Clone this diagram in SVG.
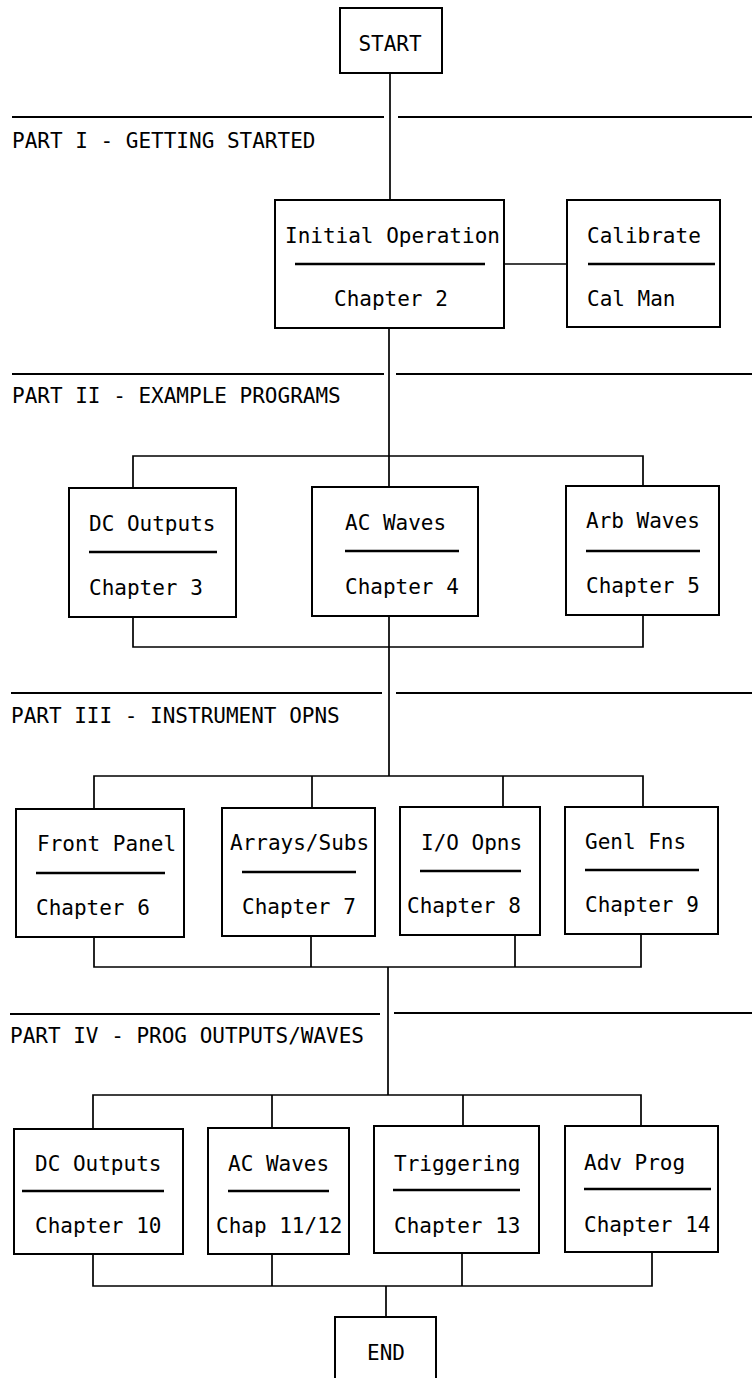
<svg xmlns="http://www.w3.org/2000/svg" width="752" height="1378" viewBox="0 0 752 1378">
<style>
.box{fill:#fff;stroke:#000;stroke-width:2}
.div{stroke:#000;stroke-width:2.4}
.sec{stroke:#000;stroke-width:1.8}
.con{fill:none;stroke:#000;stroke-width:1.7}
text{font-family:"DejaVu Sans Mono","Liberation Mono",monospace;font-size:21px;fill:#000}
.c{text-anchor:middle}
</style>
<rect width="752" height="1378" fill="#fff"/>
<g id="sections">
<line class="sec" x1="12" y1="117" x2="384" y2="117"/><line class="sec" x1="398" y1="117" x2="752" y2="117"/>
<text x="12" y="148">PART I - GETTING STARTED</text>
<line class="sec" x1="12" y1="374" x2="384" y2="374"/><line class="sec" x1="396" y1="374" x2="752" y2="374"/>
<text x="12" y="403">PART II - EXAMPLE PROGRAMS</text>
<line class="sec" x1="11" y1="693" x2="382" y2="693"/><line class="sec" x1="396" y1="693" x2="752" y2="693"/>
<text x="11" y="723">PART III - INSTRUMENT OPNS</text>
<line class="sec" x1="10" y1="1014" x2="380" y2="1014"/><line class="sec" x1="394" y1="1013" x2="752" y2="1013"/>
<text x="10" y="1043">PART IV - PROG OUTPUTS/WAVES</text>
</g>
<g id="connectors">
<path class="con" d="M390 73V200"/>
<path class="con" d="M504 264H567"/>
<path class="con" d="M389 328V456"/>
<path class="con" d="M133 488V456H643V487M389 456V487"/>
<path class="con" d="M133 617V647H643V615M389 616V776"/>
<path class="con" d="M94 809V776H643V807M312 776V808M503 776V807"/>
<path class="con" d="M94 937V967H641V934M311 936V967M515 935V967M388 967V1095"/>
<path class="con" d="M93 1129V1095H641V1126M272 1095V1128M463 1095V1126"/>
<path class="con" d="M93 1254V1286H652V1252M272 1254V1286M462 1253V1286M386 1286V1317"/>
</g>
<g id="start"><rect class="box" x="340" y="8" width="102" height="65"/><text class="c" x="390" y="51">START</text></g>
<g id="initial-operation"><rect class="box" x="275" y="200" width="229" height="128"/><text x="285" y="243">Initial Operation</text><line class="div" x1="295" y1="264" x2="485" y2="264"/><text x="334" y="306">Chapter 2</text></g>
<g id="calibrate"><rect class="box" x="567" y="200" width="153" height="127"/><text x="587" y="243">Calibrate</text><line class="div" x1="588" y1="264" x2="715" y2="264"/><text x="587" y="306">Cal Man</text></g>
<g id="dc-outputs-3"><rect class="box" x="69" y="488" width="167" height="129"/><text x="89" y="531">DC Outputs</text><line class="div" x1="89" y1="552" x2="217" y2="552"/><text x="89" y="595">Chapter 3</text></g>
<g id="ac-waves-4"><rect class="box" x="312" y="487" width="166" height="129"/><text x="345" y="530">AC Waves</text><line class="div" x1="345" y1="551" x2="459" y2="551"/><text x="345" y="594">Chapter 4</text></g>
<g id="arb-waves-5"><rect class="box" x="566" y="486" width="153" height="129"/><text x="586" y="528">Arb Waves</text><line class="div" x1="586" y1="551" x2="700" y2="551"/><text x="586" y="593">Chapter 5</text></g>
<g id="front-panel-6"><rect class="box" x="16" y="809" width="168" height="128"/><text x="37" y="851">Front Panel</text><line class="div" x1="36" y1="873" x2="165" y2="873"/><text x="36" y="915">Chapter 6</text></g>
<g id="arrays-subs-7"><rect class="box" x="222" y="808" width="153" height="128"/><text x="230" y="850">Arrays/Subs</text><line class="div" x1="242" y1="872" x2="356" y2="872"/><text x="242" y="914">Chapter 7</text></g>
<g id="io-opns-8"><rect class="box" x="400" y="807" width="140" height="128"/><text x="421" y="850">I/O Opns</text><line class="div" x1="420" y1="871" x2="521" y2="871"/><text x="407" y="913">Chapter 8</text></g>
<g id="genl-fns-9"><rect class="box" x="565" y="807" width="153" height="127"/><text x="585" y="849">Genl Fns</text><line class="div" x1="585" y1="870" x2="699" y2="870"/><text x="585" y="912">Chapter 9</text></g>
<g id="dc-outputs-10"><rect class="box" x="14" y="1129" width="169" height="125"/><text x="35" y="1171">DC Outputs</text><line class="div" x1="22" y1="1191" x2="164" y2="1191"/><text x="35" y="1233">Chapter 10</text></g>
<g id="ac-waves-11"><rect class="box" x="208" y="1128" width="141" height="126"/><text x="228" y="1171">AC Waves</text><line class="div" x1="228" y1="1191" x2="329" y2="1191"/><text x="216" y="1233">Chap 11/12</text></g>
<g id="triggering-13"><rect class="box" x="374" y="1126" width="165" height="127"/><text x="394" y="1171">Triggering</text><line class="div" x1="393" y1="1190" x2="520" y2="1190"/><text x="394" y="1233">Chapter 13</text></g>
<g id="adv-prog-14"><rect class="box" x="565" y="1126" width="153" height="126"/><text x="584" y="1170">Adv Prog</text><line class="div" x1="584" y1="1189" x2="711" y2="1189"/><text x="584" y="1232">Chapter 14</text></g>
<g id="end"><rect class="box" x="335" y="1317" width="101" height="70"/><text class="c" x="386" y="1360">END</text></g>
</svg>
